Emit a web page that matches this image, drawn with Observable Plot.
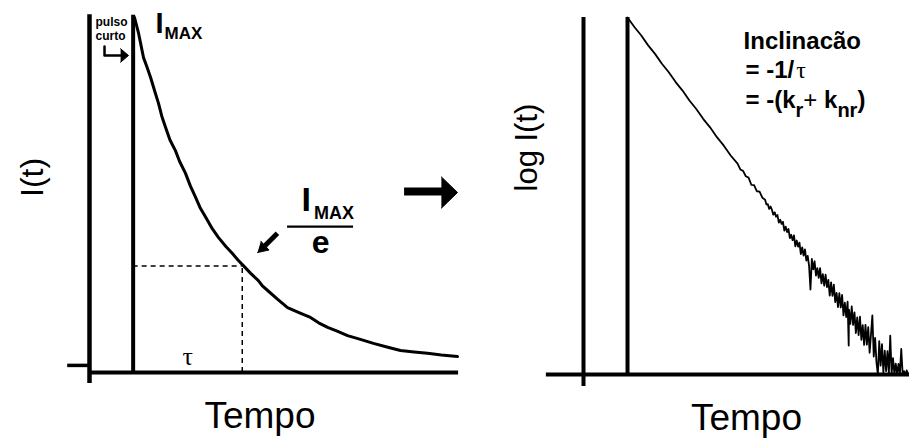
<!DOCTYPE html>
<html><head><meta charset="utf-8">
<script src="https://cdn.jsdelivr.net/npm/d3@7"></script>
<script src="https://cdn.jsdelivr.net/npm/@observablehq/plot@0.6"></script>
<style>
body{margin:0;background:#fff}
#wrap{display:flex;width:909px;height:439px;background:#fff}
svg{display:block}
</style>
</head><body><div id="wrap"></div>
<script>
// ---- data: left panel, I(t) decay (time in ns, intensity in counts) ----
const decayT = [0.05,0.2,0.38,0.5,0.64,0.8,0.93,1.05,1.19,1.35,1.55,1.7,1.92,2.1,2.29,2.45,2.66,2.9,3.13,3.4,3.64,3.85,4.04,4.3,4.59,4.75,4.93,5.3,5.66,6.1,6.5,6.8,7.13,7.5,7.86,8.3,8.81,9.3,9.8,10.3,10.79,11.3,11.89];
const decayI = [1000,955,887,862,831,790,758,722,690,655,625,595,561,525,493,465,437,405,380,355,335,316,301,280,259,243,231,206,183,168,155,140,127,116,104,94,82,72,62,58,54,49,45];
const tau = 4;          // tempo de vida (ns)
const iTau = 300;

// ---- data: right panel, log I(t) as [t, log10 I] ----
const logPoints = [
  [0,3.000],[0.25,2.972],[0.5,2.947],[0.75,2.918],[1,2.893],[1.25,2.864],[1.5,2.839],[1.75,2.810],
  [2,2.785],[2.25,2.756],[2.5,2.731],[2.75,2.702],[3,2.677],[3.25,2.648],[3.5,2.623],[3.75,2.594],
  [4.0,2.570],[4.1,2.553],[4.2,2.549],[4.3,2.533],[4.4,2.529],[4.5,2.508],[4.6,2.507],[4.7,2.489],[4.8,2.488],[4.9,2.470],
  [5.00,2.464],[5.05,2.450],[5.10,2.451],[5.15,2.437],[5.20,2.444],[5.25,2.434],[5.30,2.420],[5.35,2.427],[5.40,2.414],[5.45,2.419],
  [5.50,2.397],[5.55,2.405],[5.60,2.393],[5.65,2.399],[5.70,2.373],[5.75,2.385],[5.80,2.369],[5.85,2.378],[5.90,2.351],[5.95,2.361],
  [6.00,2.345],[6.05,2.359],[6.10,2.327],[6.15,2.344],[6.20,2.326],[6.25,2.338],[6.30,2.304],[6.35,2.324],[6.40,2.300],[6.45,2.318],
  [6.50,2.285],[6.55,2.299],[6.60,2.269],[6.65,2.200],[6.70,2.290],[6.75,2.259],[6.80,2.283],[6.85,2.241],[6.90,2.263],[6.95,2.234],
  [7.00,2.263],[7.05,2.218],[7.10,2.245],[7.15,2.211],[7.20,2.244],[7.25,2.207],[7.30,2.228],[7.35,2.182],[7.40,2.221],[7.45,2.181],
  [7.50,2.214],[7.55,2.163],[7.60,2.190],[7.65,2.148],[7.70,2.189],[7.75,2.147],[7.80,2.184],[7.85,2.124],[7.90,2.161],[7.95,2.119],
  [8.00,2.164],[8.04,2.035],[8.05,2.141],[8.10,2.099],[8.15,2.150],[8.20,2.096],[8.25,2.133],[8.30,2.072],[8.35,2.118],[8.40,2.066],
  [8.45,2.120],[8.50,2.052],[8.55,2.095],[8.60,2.037],[8.65,2.096],[8.70,2.038],[8.75,2.089],[8.80,2.014],[8.85,2.068],[8.90,2.124],
  [8.95,2.003],[9.00,2.058],[9.05,1.985],[9.10,1.950],[9.15,2.048],[9.20,1.976],[9.25,2.039],[9.30,1.956],[9.35,2.020],[9.40,1.960],
  [9.45,2.019],[9.50,1.954],[9.55,2.064],[9.60,1.953],[9.65,1.998],[9.70,1.952],[9.75,1.982],[9.80,1.951],[9.85,1.981],[9.90,1.950],
  [9.95,2.025],[10.00,1.952],[10.05,1.960],[10.10,1.950],[10.15,1.962],[10.20,1.950]
];

// ---- annotation anchors (data units) ----
const bentArrowT = [-1.05,-1.05,-0.42];
const bentArrowI = [918,893,893];
const bentHeadT = [-0.46,-0.17,-0.46];
const bentHeadI = [912,893,874];
const smallArrowHeadT = [4.56,4.98,4.68];
const smallArrowHeadI = [338,345,370];
const bigHeadT = [11.30,11.89,11.30];
const bigHeadI = [551,507,463];

const decay = decayT.map((t,i)=>({t, I: decayI[i]}));
const logData = logPoints.map(([t,L])=>({t, L}));
const pts = (T,V)=>T.map((t,i)=>({t, v: V[i]}));

const sans = "'Liberation Sans', Arial, Helvetica, sans-serif";
const serif = "'Liberation Serif', 'Times New Roman', serif";
const id = d=>d;

const left = Plot.plot({
  width: 480, height: 439,
  marginLeft: 89, marginRight: 20, marginTop: 17, marginBottom: 67,
  x: {domain: [-1.6, 12], axis: null},
  y: {domain: [0, 1000], axis: null},
  style: {background: "white", overflow: "visible"},
  marks: [
    Plot.ruleY([iTau], {x1: 0, x2: tau, stroke: "black", strokeWidth: 1.5, strokeDasharray: "5,4"}),
    Plot.ruleX([tau], {y1: 0, y2: iTau, stroke: "black", strokeWidth: 1.5, strokeDasharray: "5,4"}),
    Plot.ruleX([-1.6], {y1: -31, y2: 1008, stroke: "black", strokeWidth: 4.5}),
    Plot.ruleY([0], {x1: -1.6, x2: 11.93, stroke: "black", strokeWidth: 4}),
    Plot.ruleY([20], {x1: -2.4, x2: -1.6, stroke: "black", strokeWidth: 3.5}),
    Plot.ruleX([0], {y1: 0, y2: 1006, stroke: "black", strokeWidth: 4}),
    Plot.line(decay, {x: "t", y: "I", stroke: "black", strokeWidth: 3, strokeLinejoin: "round"}),
    // labels
    Plot.text(["I(t)"], {text: id, frameAnchor: "left", dx: -57, dy: 2, rotate: -90, fontSize: 32, fontFamily: sans}),
    Plot.text(["Tempo"], {text: id, frameAnchor: "bottom", lineAnchor: "bottom", dx: -15, dy: 55, fontSize: 37, fontFamily: sans}),
    Plot.text(["IMAX"], {text: id, x: 0.82, y: 955, textAnchor: "start", lineAnchor: "bottom", fontSize: 29, fontWeight: "bold", fontFamily: sans}),
    Plot.text(["IMAX"], {text: id, x: 6.17, y: 454, textAnchor: "start", lineAnchor: "bottom", fontSize: 34, fontWeight: "bold", fontFamily: sans}),
    Plot.ruleY([411], {x1: 5.66, x2: 8.08, stroke: "black", strokeWidth: 2.2}),
    Plot.text(["e"], {text: id, x: 6.87, y: 336, lineAnchor: "bottom", fontSize: 32, fontWeight: "bold", fontFamily: sans}),
    Plot.text(["τ"], {text: id, x: 2, y: 20, lineAnchor: "bottom", fontSize: 26, fontFamily: serif}),
    Plot.text(["pulso","curto"], {text: id, x: -1.38, y: [975, 938], textAnchor: "start", lineAnchor: "bottom", fontSize: 12, fontWeight: "bold", fontFamily: sans}),
    // bent arrow
    Plot.line(pts(bentArrowT, bentArrowI), {x: "t", y: "v", stroke: "black", strokeWidth: 2.5}),
    Plot.line(pts(bentHeadT, bentHeadI), {x: "t", y: "v", fill: "black", stroke: "black", strokeWidth: 1}),
    // small arrow toward the curve
    Plot.link([0], {x1: 5.29, y1: 392, x2: 4.83, y2: 357, stroke: "black", strokeWidth: 5}),
    Plot.line(pts(smallArrowHeadT, smallArrowHeadI), {x: "t", y: "v", fill: "black", stroke: "black", strokeWidth: 1}),
    // big arrow between panels
    Plot.ruleY([510], {x1: 9.95, x2: 11.35, stroke: "black", strokeWidth: 8}),
    Plot.line(pts(bigHeadT, bigHeadI), {x: "t", y: "v", fill: "black", stroke: "black", strokeWidth: 1})
  ]
});

const right = Plot.plot({
  width: 429, height: 439,
  marginLeft: 103, marginRight: 0, marginTop: 17, marginBottom: 65,
  x: {domain: [-1.6, 10.25], axis: null},
  y: {domain: [1.95, 3.0], axis: null},
  style: {background: "white", overflow: "visible"},
  marks: [
    Plot.ruleX([-1.6], {y1: 1.915, y2: 3.0, stroke: "black", strokeWidth: 4}),
    Plot.ruleY([1.95], {x1: -2.95, x2: 10.25, stroke: "black", strokeWidth: 4}),
    Plot.ruleX([0], {y1: 1.95, y2: 3.0, stroke: "black", strokeWidth: 4}),
    Plot.line(logData, {x: "t", y: "L", stroke: "black", strokeWidth: 1.8, strokeLinejoin: "round"}),
    Plot.text(["log I(t)"], {text: id, frameAnchor: "left", dx: -56, dy: -4.5, rotate: -90, fontSize: 31, fontFamily: sans}),
    Plot.text(["Tempo"], {text: id, frameAnchor: "bottom", lineAnchor: "bottom", dx: 0, dy: 55, fontSize: 37, fontFamily: sans}),
    Plot.text(["Inclinacão", "= -1/τ", "= -(kr+ knr)"], {text: id, x: [4.22, 4.29, 4.29], y: [2.906, 2.821, 2.735], textAnchor: "start", lineAnchor: "bottom", fontSize: 24, fontWeight: "bold", fontFamily: sans})
  ]
});

function findTexts(svg, content) {
  return d3.select(svg).selectAll("text").filter(function(){ return this.textContent === content; }).nodes();
}
function rich(node, parts) {
  if (!node) return;
  const el = d3.select(node);
  el.text(null);
  for (const p of parts) {
    const ts = el.append("tspan").text(p.s);
    if (p.size) ts.attr("font-size", p.size);
    if (p.dy) ts.attr("dy", p.dy);
    if (p.dx) ts.attr("dx", p.dx);
    if (p.family) ts.attr("font-family", p.family);
    if (p.weight) ts.attr("font-weight", p.weight);
  }
}
const imaxNodes = findTexts(left, "IMAX");
rich(imaxNodes[0], [{s: "I"}, {s: "MAX", size: 17, dy: 6, dx: 1}]);
rich(imaxNodes[1], [{s: "I"}, {s: "MAX", size: 18, dy: 8, dx: 3}]);
rich(findTexts(right, "= -1/τ")[0], [{s: "= -1/"}, {s: "τ", family: serif, weight: "normal", dx: 2}]);
rich(findTexts(right, "= -(kr+ knr)")[0], [{s: "= -(k"}, {s: "r", size: 20, dy: 9}, {s: "+", dy: -9, weight: "normal"}, {s: " k"}, {s: "nr", size: 20, dy: 9}, {s: ")", dy: -9}]);

document.getElementById("wrap").append(left, right);
</script>
</body></html>
